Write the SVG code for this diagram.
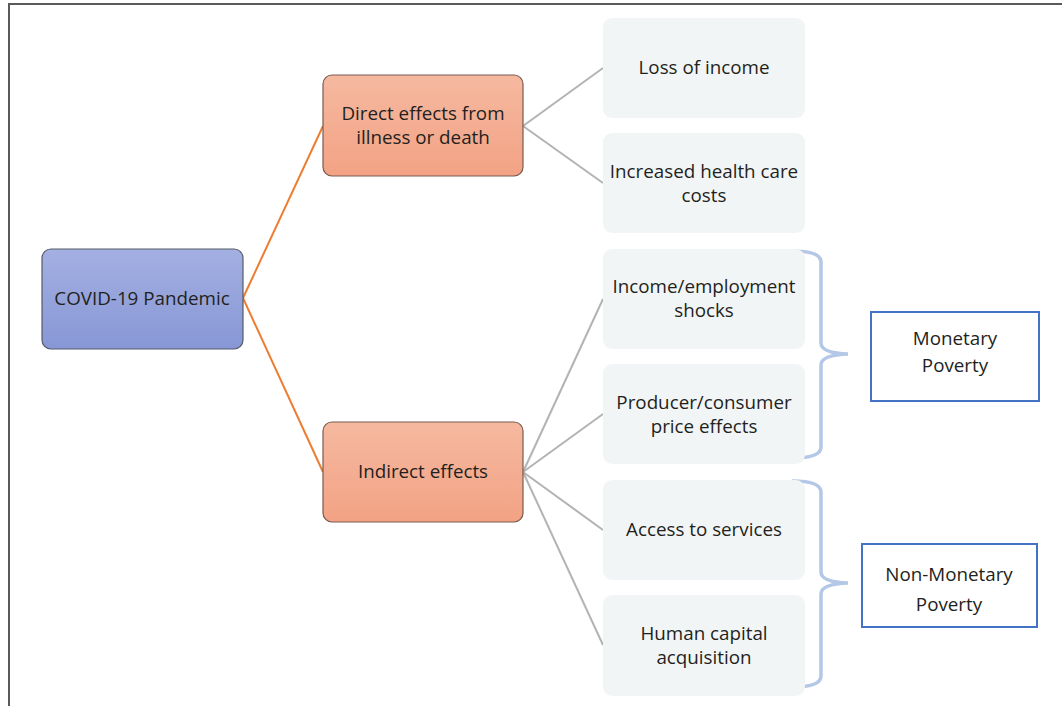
<svg xmlns="http://www.w3.org/2000/svg" width="1062" height="706" viewBox="0 0 1062 706">
  <defs>
    <linearGradient id="gBlue" x1="0" y1="0" x2="0" y2="1">
      <stop offset="0" stop-color="#a4b0e2"/>
      <stop offset="1" stop-color="#8797d6"/>
    </linearGradient>
    <linearGradient id="gSalmon" x1="0" y1="0" x2="0" y2="1">
      <stop offset="0" stop-color="#f5b9a0"/>
      <stop offset="1" stop-color="#f3a284"/>
    </linearGradient>
  </defs>
  <style>
    text { font-family: "Open Sans", "Liberation Sans", Arial, sans-serif; font-size: 18.8px; fill: #231f20; text-anchor: middle; }
    .root { fill: url(#gBlue); stroke: #555a66; stroke-width: 1.2; }
    .mid { fill: url(#gSalmon); stroke: #7a5a50; stroke-width: 1.2; }
    .leaf { fill: #f2f5f6; stroke: none; }
    .pov { fill: #ffffff; stroke: #4472c4; stroke-width: 2; }
    .orange { stroke: #ed7d31; stroke-width: 2; fill: none; }
    .gray { stroke: #b3b3b3; stroke-width: 2; fill: none; }
    .brace { stroke: #b4c7e7; stroke-width: 3.5; fill: none; }
  </style>

  <rect width="1062" height="706" fill="#ffffff"/>
  <!-- outer frame (open at right and bottom) -->
  <path d="M9,706 V4 H1062" fill="none" stroke="#5a5a5a" stroke-width="2"/>

  <g id="connectors">
    <line class="orange" x1="243" y1="298" x2="323" y2="126"/>
    <line class="orange" x1="243" y1="298" x2="323" y2="472"/>
    <line class="gray" x1="523" y1="126" x2="603" y2="68"/>
    <line class="gray" x1="523" y1="126" x2="603" y2="183"/>
    <line class="gray" x1="523" y1="472" x2="603" y2="299"/>
    <line class="gray" x1="523" y1="472" x2="603" y2="414"/>
    <line class="gray" x1="523" y1="472" x2="603" y2="530"/>
    <line class="gray" x1="523" y1="472" x2="603" y2="645"/>
    <!-- braces -->
    <path class="brace" d="M792,251 Q821,251 821,262 V343 Q821,353 848,354 Q821,355 821,365 V447 Q821,458 792,458"/>
    <path class="brace" d="M792,481 Q821,481 821,492 V572 Q821,582 848,583 Q821,584 821,594 V676 Q821,687 792,687"/>
  </g>

  <g id="covid">
    <rect class="root" x="42" y="249" width="201" height="100" rx="9"/>
    <text x="142" y="305">COVID-19 Pandemic</text>
  </g>
  <g id="direct">
    <rect class="mid" x="323" y="75" width="200" height="101" rx="9"/>
    <text x="423" y="120">Direct effects from</text>
    <text x="423" y="144">illness or death</text>
  </g>
  <g id="indirect">
    <rect class="mid" x="323" y="422" width="200" height="100" rx="9"/>
    <text x="423" y="478">Indirect effects</text>
  </g>

  <g id="loss-of-income">
    <rect class="leaf" x="603" y="18" width="202" height="100" rx="9"/>
    <text x="704" y="74">Loss of income</text>
  </g>
  <g id="health-care-costs">
    <rect class="leaf" x="603" y="133" width="202" height="100" rx="9"/>
    <text x="704" y="178">Increased health care</text>
    <text x="704" y="202">costs</text>
  </g>
  <g id="income-shocks">
    <rect class="leaf" x="603" y="249" width="202" height="100" rx="9"/>
    <text x="704" y="293">Income/employment</text>
    <text x="704" y="317">shocks</text>
  </g>
  <g id="price-effects">
    <rect class="leaf" x="603" y="364" width="202" height="100" rx="9"/>
    <text x="704" y="409">Producer/consumer</text>
    <text x="704" y="433">price effects</text>
  </g>
  <g id="access-services">
    <rect class="leaf" x="603" y="480" width="202" height="100" rx="9"/>
    <text x="704" y="536">Access to services</text>
  </g>
  <g id="human-capital">
    <rect class="leaf" x="603" y="595" width="202" height="101" rx="9"/>
    <text x="704" y="640">Human capital</text>
    <text x="704" y="664">acquisition</text>
  </g>

  <g id="monetary-poverty">
    <rect class="pov" x="871" y="312" width="168" height="89"/>
    <text x="955" y="345">Monetary</text>
    <text x="955" y="372">Poverty</text>
  </g>
  <g id="non-monetary-poverty">
    <rect class="pov" x="862" y="544" width="175" height="83"/>
    <text x="949" y="581">Non-Monetary</text>
    <text x="949" y="611">Poverty</text>
  </g>
</svg>
